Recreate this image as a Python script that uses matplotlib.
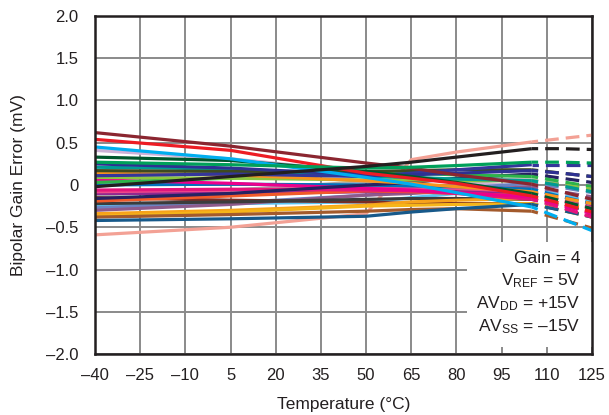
import matplotlib
matplotlib.use("Agg")
import matplotlib.pyplot as plt
from matplotlib.patches import Rectangle

plt.rcParams['font.family'] = ['Liberation Sans', 'DejaVu Sans']
plt.rcParams['mathtext.fontset'] = 'custom'
plt.rcParams['mathtext.rm'] = 'Liberation Sans'
plt.rcParams['mathtext.it'] = 'Liberation Sans:italic'

# temperatures (°C)
temp_solid = [-40, 5, 50, 65, 80, 105]
temp_dash = [105, 115, 125]

x_ticks = [-40, -25, -10, 5, 20, 35, 50, 65, 80, 95, 110, 125]
x_tick_labels = ['\u201340', '\u201325', '\u201310', '5', '20', '35', '50', '65', '80', '95', '110', '125']
y_ticks = [-2.0, -1.5, -1.0, -0.5, 0, 0.5, 1.0, 1.5, 2.0]
y_tick_labels = ['\u20132.0', '\u20131.5', '\u20131.0', '\u20130.5', '0', '0.5', '1.0', '1.5', '2.0']

# series: colour, solid values (at temp_solid), dashed values (at 115, 125)
salmon = ('#F3A195', [-0.59, -0.50, -0.34, 0.30, 0.39, 0.51], [0.55, 0.59])
darkred = ('#8B2630', [0.62, 0.46, 0.26, 0.20, 0.12, 0.01], [-0.08, -0.17])
red = ('#ED1C24', [0.54, 0.41, 0.14, 0.08, 0.02, -0.13], [-0.22, -0.32])
lavender = ('#CDB2D8', [0.41, 0.31, 0.15, 0.10, 0.05, -0.03], [-0.10, -0.18])
cyan = ('#00AEEF', [0.45, 0.31, 0.09, 0.01, -0.09, -0.26], [-0.40, -0.54])
dkgreen = ('#00572D', [0.33, 0.29, 0.16, 0.10, 0.03, -0.10], [-0.19, -0.28])
navy = ('#2E3192', [0.25, 0.20, 0.12, 0.12, 0.14, 0.17], [0.14, 0.10])
teal = ('#009A93', [0.21, 0.19, 0.10, 0.09, 0.07, 0.05], [-0.01, -0.08])
olive = ('#3E4A1F', [0.17, 0.16, 0.16, 0.17, 0.18, 0.18], [0.14, 0.10])
orange = ('#F7941D', [0.14, 0.12, 0.05, 0.02, -0.02, -0.08], [-0.15, -0.22])
navy2 = ('#34369A', [0.11, 0.13, 0.10, 0.14, 0.18, 0.24], [0.24, 0.24])
green = ('#00A05A', [0.27, 0.24, 0.20, 0.21, 0.23, 0.27], [0.27, 0.26])
lightgreen = ('#8CC63F', [0.09, 0.08, 0.06, 0.06, 0.05, 0.05], [0.00, -0.05])
green2 = ('#2DB34A', [0.03, 0.08, 0.15, 0.14, 0.12, 0.10], [0.04, -0.02])
magenta = ('#EC008C', [0.06, 0.02, -0.04, -0.06, -0.09, -0.14], [-0.24, -0.34])
blue = ('#0072BC', [0.00, 0.01, 0.00, -0.01, -0.02, -0.05], [-0.14, -0.22])
hotpink = ('#E4157B', [-0.06, -0.05, -0.06, -0.07, -0.10, -0.17], [-0.27, -0.38])
pink = ('#EE4A8A', [-0.08, -0.06, -0.03, -0.03, -0.04, -0.08], [-0.18, -0.27])
gray = ('#A7A9AC', [-0.12, -0.06, 0.04, 0.06, 0.07, 0.06], [0.01, -0.05])
navy3 = ('#262262', [-0.16, -0.10, 0.00, 0.03, 0.08, 0.13], [0.08, 0.03])
purple = ('#92278F', [-0.10, -0.10, -0.08, -0.08, -0.08, -0.10], [-0.18, -0.26])
orange2 = ('#F15A29', [-0.19, -0.13, -0.07, -0.08, -0.10, -0.13], [-0.22, -0.30])
maroon = ('#7B2D26', [-0.15, -0.18, -0.20, -0.22, -0.22, -0.22], [-0.30, -0.37])
dkgray = ('#3C3C3C', [-0.22, -0.20, -0.17, -0.16, -0.16, -0.17], [-0.24, -0.31])
lightblue = ('#5BC5F2', [-0.24, -0.22, -0.20, -0.15, -0.10, -0.05], [-0.12, -0.20])
steel = ('#6C83C2', [-0.27, -0.21, -0.12, -0.08, -0.04, 0.02], [-0.03, -0.09])
mauve = ('#8E5A8B', [-0.30, -0.23, -0.12, -0.10, -0.07, -0.02], [-0.08, -0.14])
orange3 = ('#F7A21B', [-0.34, -0.30, -0.24, -0.20, -0.18, -0.16], [-0.22, -0.28])
gold = ('#F6B519', [-0.37, -0.32, -0.25, -0.24, -0.23, -0.22], [-0.30, -0.38])
brown = ('#A35A2C', [-0.38, -0.35, -0.31, -0.29, -0.28, -0.31], [-0.41, -0.51])
dkteal = ('#17598A', [-0.42, -0.40, -0.37, -0.32, -0.28, -0.23], [-0.30, -0.38])
black = ('#231F20', [-0.02, 0.10, 0.22, 0.27, 0.33, 0.43], [0.43, 0.42])

series = [salmon, lavender, gray, lightblue, steel, mauve, purple, maroon, dkgray,
          orange3, gold, brown, dkteal, orange2, pink, hotpink, blue, magenta,
          navy3, green2, lightgreen, orange, teal, olive, navy2, navy, dkgreen,
          cyan, red, darkred, green, black]

fig = plt.figure(figsize=(6.09, 4.15), dpi=100)
ax = fig.add_axes([95/609, 1-354/415, 497/609, 338/415])

lw = 2.3
for color, solid, dash in series:
    ax.plot(temp_solid, solid, color=color, lw=lw, solid_capstyle='butt', zorder=2)
    ax.plot(temp_dash, [solid[-1]] + dash, color=color, lw=lw,
            linestyle=(2.3, (4.3, 2.2)), dash_capstyle='butt', zorder=2)

ax.set_xlim(-40, 125)
ax.set_ylim(-2.0, 2.0)
ax.set_xticks(x_ticks)
ax.set_xticklabels(x_tick_labels)
ax.set_yticks(y_ticks)
ax.set_yticklabels(y_tick_labels)
ax.tick_params(length=0, labelsize=12, colors='#231F20')
ax.tick_params(axis='x', pad=10)
ax.tick_params(axis='y', pad=12)
ax.grid(True, color='#8A8A8A', lw=1.4, zorder=0)
ax.set_axisbelow(True)
for s in ax.spines.values():
    s.set_linewidth(1.8)
    s.set_color('#231F20')
    s.set_zorder(6)

ax.set_xlabel('Temperature (\u00b0C)', fontsize=12.5, labelpad=10, color='#231F20')
ax.set_ylabel('Bipolar Gain Error (mV)', fontsize=12.5, labelpad=14, color='#231F20')

ax.add_patch(Rectangle((0.748, 0.02), 0.26, 0.311, transform=ax.transAxes,
                       facecolor='white', edgecolor='none', zorder=4))
texts = ['Gain = 4', 'V$_{\\mathrm{REF}}$ = 5V', 'AV$_{\\mathrm{DD}}$ = +15V', 'AV$_{\\mathrm{SS}}$ = \u201315V']
ys = [0.269, 0.204, 0.136, 0.068]
for t, yy in zip(texts, ys):
    ax.text(0.976, yy, t, transform=ax.transAxes, ha='right', va='baseline',
            fontsize=12.5, color='#231F20', zorder=5)

fig.savefig('out.png', dpi=100)
